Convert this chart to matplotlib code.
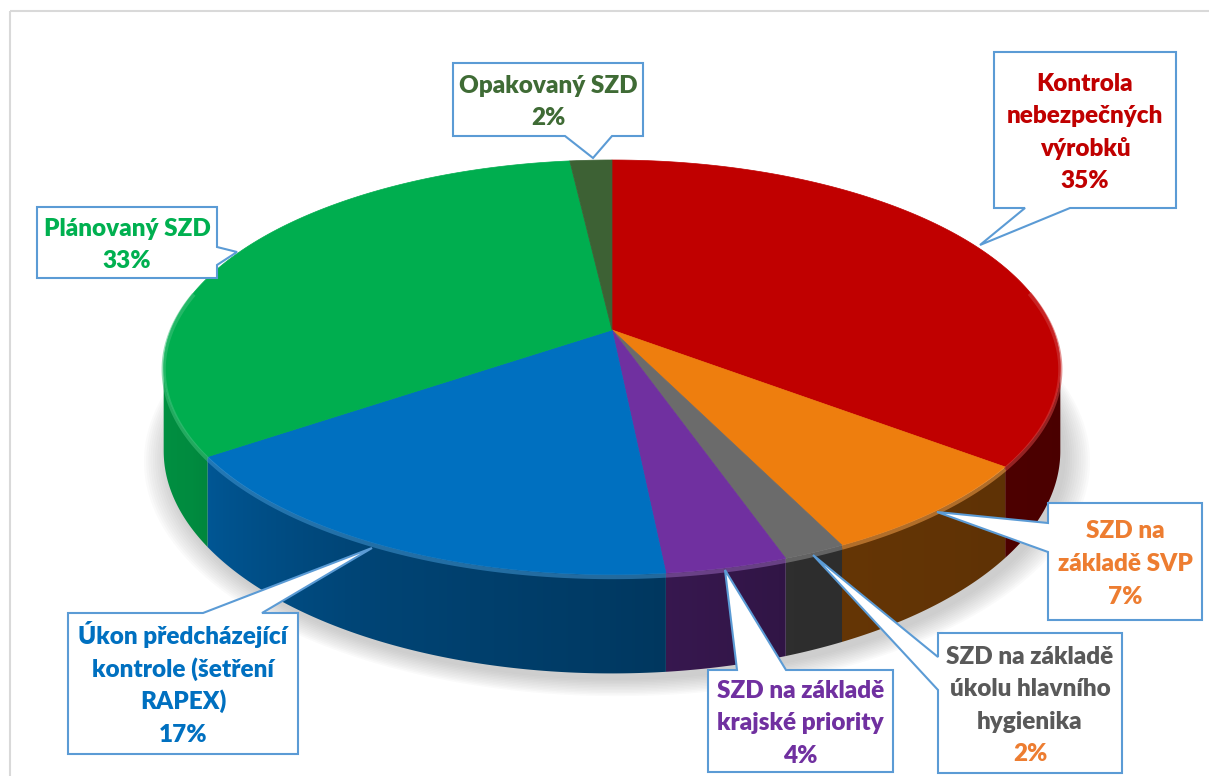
import numpy as np
import matplotlib
matplotlib.use("Agg")
import matplotlib.pyplot as plt
from matplotlib.patches import Polygon, Rectangle
from matplotlib.colors import to_rgb

# ================================
# Data
# ================================
names = [
    "Kontrola\nnebezpečných\nvýrobků",
    "SZD na\nzákladě SVP",
    "SZD na základě\núkolu hlavního\nhygienika",
    "SZD na základě\nkrajské priority",
    "Úkon předcházející\nkontrole (šetření\nRAPEX)",
    "Plánovaný SZD",
    "Opakovaný SZD",
]
shares = [35.4, 7.4, 1.9, 3.7, 17.0, 32.8, 1.8]
slice_colors = ["#C00000", "#EE7E0E", "#6B6B6B", "#7030A0", "#0070C0", "#00AE4F", "#3D6134"]
name_colors = ["#C00000", "#ED7D31", "#595959", "#7030A0", "#0070C0", "#00B050", "#3F6B35"]
pct_colors = ["#C00000", "#ED7D31", "#ED7D31", "#7030A0", "#0070C0", "#00B050", "#3F6B35"]

# ================================
# Layout (pixel space, y down)
# ================================
W, H = 1209, 776
CX, CY = 612, 330        # pie centre on screen
R, RK = 441, 200.6       # horizontal radius, vertical radius
P = 0.18                 # perspective strength
DEPTH = 81               # wall height

# callout boxes: (x0, y0, x1, y1), pointer side, pointer base, pointer apex
callouts = [
    ((994, 52, 1176, 208), "bottom", (1025, 1070), (980, 245)),
    ((1048, 503, 1202, 620), "left", (523, 552), (937, 512)),
    ((938, 633, 1122, 773), "left", (657, 690), (813, 555)),
    ((708, 670, 893, 772), "top", (737, 786), (725, 570)),
    ((68, 613, 298, 754), "top", (203, 262), (372, 548)),
    ((37, 207, 217, 278), "right", (247, 265), (237, 252)),
    ((453, 63, 643, 136), "bottom", (565, 612), (593, 158)),
]

FONT = ["Lato", "DejaVu Sans"]
LINE_H = 32.5


def proj(theta_deg, r=1.0):
    th = np.radians(theta_deg)
    u = r * np.cos(th)
    v = r * np.sin(th)
    s = 1.0 / (1.0 + P * v)
    return CX + R * u * s, CY - RK * v * s, s


def shade(color, f):
    return np.clip(np.array(to_rgb(color)) * f, 0, 1)


def lighten(color, f):
    c = np.array(to_rgb(color))
    return tuple(c + (1 - c) * f)


def wall_factor(theta):
    return np.interp(theta, [-180, -150, -120, -90, -70, -40, 0],
                     [0.85, 0.80, 0.62, 0.52, 0.43, 0.40, 0.38])


fig = plt.figure(figsize=(W / 100, H / 100), dpi=100)
ax = fig.add_axes([0, 0, 1, 1])
ax.set_xlim(0, W)
ax.set_ylim(H, 0)
ax.axis("off")

# chart frame
ax.add_patch(Rectangle((10, 11), 1250, 800, fill=False, edgecolor="#D9D9D9", lw=1.5, zorder=0))

# angles of slice edges (clockwise from top)
cum = np.concatenate([[0], np.cumsum(shares)])
edges = 90 - 360 * cum / cum[-1]

# soft shadow under the pie
full = np.linspace(0, 360, 361)
bx, by, bs = proj(full)
by = by + DEPTH * bs
for i in range(12):
    k = 1 + 0.005 * i
    pts = np.column_stack([CX + (bx - CX) * k + 5, CY + 40 + (by - CY - 40) * k + 6])
    ax.add_patch(Polygon(pts, closed=True, facecolor="#7F7F7F", edgecolor="none",
                         alpha=0.035, zorder=1))

# side walls: visible between the two silhouette angles
t_lo = -180 + np.degrees(np.arcsin(P))
t_hi = -np.degrees(np.arcsin(P))
t_grid = np.linspace(t_lo, t_hi, 2000)
x_grid, _, _ = proj(t_grid)
cols_x = np.arange(W) + 0.5
theta_x = np.interp(cols_x, x_grid, t_grid)
fac_x = wall_factor(theta_x)

for i, col in enumerate(slice_colors):
    a0, a1 = edges[i], edges[i + 1]
    a0n = ((a0 + 180) % 360) - 180
    a1n = a0n - (a0 - a1)
    lo, hi = max(a1n, t_lo), min(a0n, t_hi)
    if lo >= hi:
        # slice may wrap: try shifting one turn
        a0n -= 360
        a1n -= 360
        lo, hi = max(a1n, t_lo), min(a0n, t_hi)
        if lo >= hi:
            continue
    angs = np.linspace(hi, lo, 200)
    xs, ys, ss = proj(angs)
    poly = np.column_stack([np.concatenate([xs, xs[::-1]]),
                            np.concatenate([ys, (ys + DEPTH * ss)[::-1]])])
    patch = Polygon(poly, closed=True, facecolor="none", edgecolor="none")
    ax.add_patch(patch)
    img = np.tile((np.array(to_rgb(col))[None, :] * fac_x[:, None])[None, :, :], (2, 1, 1))
    im = ax.imshow(np.clip(img, 0, 1), extent=(0, W, H, 0), aspect="auto",
                   interpolation="bilinear", zorder=2)
    im.set_clip_path(patch)
    ax.set_xlim(0, W)
    ax.set_ylim(H, 0)

# top faces
for i, col in enumerate(slice_colors):
    a0, a1 = edges[i], edges[i + 1]
    angs = np.linspace(a0, a1, max(3, int(abs(a0 - a1)) * 2))
    xs, ys, _ = proj(angs)
    pts = np.column_stack([np.concatenate([[CX], xs]), np.concatenate([[CY], ys])])
    ax.add_patch(Polygon(pts, closed=True, facecolor=col, edgecolor=col, lw=0.5, zorder=3))
    # bevel highlight along the front rim
    front = angs[np.sin(np.radians(angs)) < 0.2]
    if len(front) > 1:
        hx, hy, hs = proj(front)
        ax.plot(hx, hy + 2 * hs, color=lighten(col, 0.25), lw=3, alpha=0.55,
                solid_capstyle="butt", zorder=4)


# callouts
def callout_polygon(box, side, base, apex):
    x0, y0, x1, y1 = box
    b0, b1 = base
    if side == "top":
        return [(x0, y0), (b0, y0), apex, (b1, y0), (x1, y0), (x1, y1), (x0, y1)]
    if side == "right":
        return [(x0, y0), (x1, y0), (x1, b0), apex, (x1, b1), (x1, y1), (x0, y1)]
    if side == "bottom":
        return [(x0, y0), (x1, y0), (x1, y1), (b1, y1), apex, (b0, y1), (x0, y1)]
    return [(x0, y0), (x1, y0), (x1, y1), (x0, y1), (x0, b1), apex, (x0, b0)]


pcts = [f"{round(v)}%" for v in shares]
for i, (box, side, base, apex) in enumerate(callouts):
    ax.add_patch(Polygon(callout_polygon(box, side, base, apex), closed=True,
                         facecolor="white", edgecolor="#5B9BD5", lw=1.5, zorder=6))
    lines = names[i].split("\n") + [pcts[i]]
    colors = [name_colors[i]] * (len(lines) - 1) + [pct_colors[i]]
    bxc = 0.5 * (box[0] + box[2])
    byc = 0.5 * (box[1] + box[3])
    n = len(lines)
    for j, (txt, c) in enumerate(zip(lines, colors)):
        yb = byc + (j - (n - 1) / 2) * LINE_H + 9.5
        ax.text(bxc, yb, txt, ha="center", va="baseline", color=c, fontsize=17.5,
                fontweight="heavy", family=FONT, zorder=7)

fig.savefig("out.png", dpi=100)
